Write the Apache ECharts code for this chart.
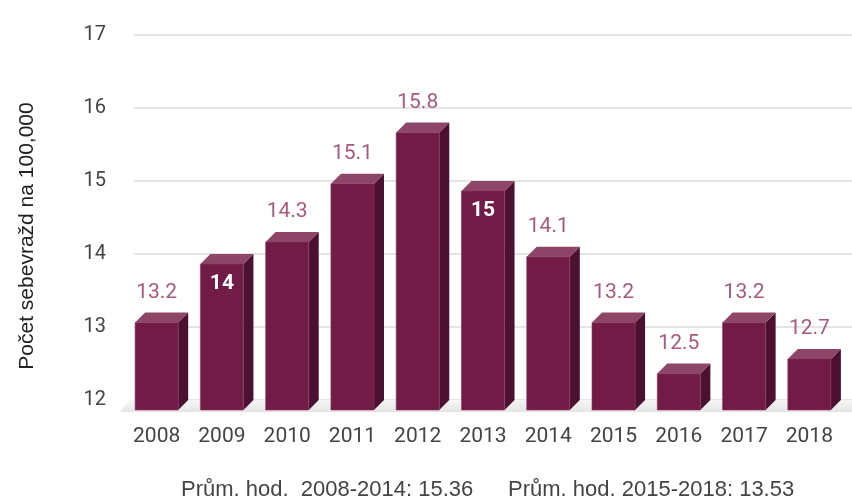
<!DOCTYPE html>
<html>
<head>
<meta charset="utf-8">
<script src="https://cdn.jsdelivr.net/npm/echarts@6/dist/echarts.min.js"></script>
<style>
  html, body { margin: 0; padding: 0; background: #fff; }
  #chart { width: 852px; height: 500px; }
</style>
</head>
<body>
<div id="chart"></div>
<script>
// data
const years = ['2008', '2009', '2010', '2011', '2012', '2013', '2014', '2015', '2016', '2017', '2018']
const rates = [13.2, 14, 14.3, 15.1, 15.8, 15, 14.1, 13.2, 12.5, 13.2, 12.7]
const insideLabelYears = ['2009', '2013'] // these labels sit inside the bar, white
const yMin = 12
const yMax = 17
const yStep = 1
const yTitle = 'Počet sebevražd na 100,000'
const avgNotes = ['Prům. hod.  2008-2014: 15.36', 'Prům. hod. 2015-2018: 13.53']

const DEPTH = 10
const FRONT = '#731b47'
const TOP = '#8e4668'
const SIDE = '#4c1131'

const chart = echarts.init(document.getElementById('chart'))

function renderBar(params, api) {
  const i = api.value(0)
  const v = api.value(1)
  const top = api.coord([i, v])
  const base = api.coord([i, yMin])
  const w = api.size([1, 0])[0] * 0.66
  const x0 = top[0] - w / 2
  const x1 = top[0] + w / 2
  const y0 = top[1]
  const y1 = base[1]
  const d = DEPTH
  const inside = insideLabelYears.includes(years[i])
  return {
    type: 'group',
    children: [
      {
        type: 'polygon',
        shape: { points: [[x1, y0], [x1 + d, y0 - d], [x1 + d, y1 - d], [x1, y1]] },
        style: { fill: SIDE }
      },
      {
        type: 'polygon',
        shape: { points: [[x0, y0], [x0 + d, y0 - d], [x1 + d, y0 - d], [x1, y0]] },
        style: { fill: TOP }
      },
      {
        type: 'rect',
        shape: { x: x0, y: y0, width: w, height: y1 - y0 },
        style: { fill: FRONT, stroke: '#8a3a60', lineWidth: 0.6 }
      },
      {
        type: 'text',
        style: {
          text: String(v),
          x: top[0],
          y: inside ? y0 + 20 : y0 - 30,
          align: 'center',
          verticalAlign: 'middle',
          fill: inside ? '#ffffff' : '#a8597f',
          fontFamily: 'Roboto',
          fontSize: 21,
          fontWeight: inside ? 'bold' : 'normal'
        }
      }
    ]
  }
}

// light floor under the bars
function renderFloor(params, api) {
  const cs = params.coordSys
  const yb = cs.y + cs.height
  const d = DEPTH
  return {
    type: 'polygon',
    shape: { points: [[cs.x - 4, yb + 2], [cs.x + d - 4, yb - d], [cs.x + cs.width + d, yb - d], [cs.x + cs.width + d, yb + 2]] },
    style: {
      fill: new echarts.graphic.LinearGradient(0, 0, 0, 1, [
        { offset: 0, color: '#f6f6f6' },
        { offset: 1, color: '#e4e4e4' }
      ])
    },
    silent: true
  }
}

const noteStyle = { fontFamily: 'Liberation Sans', fontSize: 22, fontWeight: 'normal', color: '#444' }

chart.setOption({
  animation: false,
  title: [
    { text: avgNotes[0], left: 176, top: 474, textStyle: noteStyle },
    { text: avgNotes[1], left: 503, top: 474, textStyle: noteStyle }
  ],
  graphic: [
    {
      type: 'text',
      x: 27,
      y: 236,
      rotation: Math.PI / 2,
      style: {
        text: yTitle,
        align: 'center',
        verticalAlign: 'middle',
        fontFamily: 'Liberation Sans',
        fontSize: 21,
        fill: '#222'
      }
    }
  ],
  grid: [
    // front plane: bars and year labels
    { left: 124, right: 10, top: 45, bottom: 90 },
    // back wall: gridlines and value labels
    { left: 134, right: 0, top: 35, bottom: 100 }
  ],
  xAxis: [
    {
      type: 'category',
      gridIndex: 0,
      data: years,
      axisLine: { show: false },
      axisTick: { show: false },
      axisLabel: { color: '#444', fontFamily: 'Roboto', fontSize: 21, margin: 16 }
    },
    { type: 'value', gridIndex: 1, min: 0, max: 1, show: false }
  ],
  yAxis: [
    { type: 'value', gridIndex: 0, min: yMin, max: yMax, interval: yStep, show: false },
    {
      type: 'value',
      gridIndex: 1,
      min: yMin,
      max: yMax,
      interval: yStep,
      axisLine: { show: false },
      axisTick: { show: false },
      axisLabel: { color: '#444', fontFamily: 'Roboto', fontSize: 20, margin: 28 },
      splitLine: { lineStyle: { color: '#dcdcdc', width: 1.5 } }
    }
  ],
  series: [
    {
      type: 'custom',
      xAxisIndex: 0,
      yAxisIndex: 0,
      renderItem: renderFloor,
      data: [[0, yMin]],
      z: 1
    },
    {
      type: 'custom',
      xAxisIndex: 0,
      yAxisIndex: 0,
      renderItem: renderBar,
      encode: { x: 0, y: 1 },
      data: years.map((y, i) => [i, rates[i]]),
      z: 2
    }
  ]
})
</script>
</body>
</html>
